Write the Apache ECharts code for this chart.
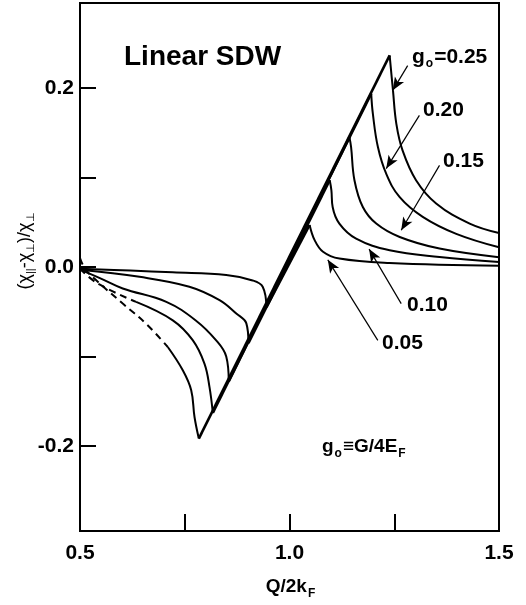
<!DOCTYPE html>
<html>
<head>
<meta charset="utf-8">
<script src="https://cdn.jsdelivr.net/npm/echarts@6/dist/echarts.min.js"></script>
<style>
  html, body { margin: 0; padding: 0; background: #fff; }
  #chart { width: 526px; height: 605px; }
</style>
</head>
<body>
<div id="chart"></div>
<script>
// curve values: [Q/2kF, (chi_par - chi_perp)/chi_perp]
const g05Left = [[0.5, -0.002], [0.62, -0.004], [0.721, -0.006], [0.849, -0.009], [0.912, -0.015], [0.936, -0.022], [0.945, -0.045]];
const g05Right = [[1.048, 0.047], [1.060, 0.030], [1.080, 0.017], [1.119, 0.0094], [1.239, 0.0045], [1.5, 0.0015]];

const g10Left = [[0.5, -0.003], [0.642, -0.011], [0.761, -0.022], [0.833, -0.037], [0.873, -0.052], [0.897, -0.063], [0.902, -0.085]];
const g10Right = [[1.096, 0.097], [1.100, 0.0857], [1.103, 0.067], [1.119, 0.0485], [1.159, 0.0317], [1.239, 0.0187], [1.358, 0.0112], [1.5, 0.0056]];

const g15Left = [[0.5, -0.003], [0.55, -0.013], [0.602, -0.024], [0.706, -0.039], [0.777, -0.060], [0.825, -0.082], [0.849, -0.10], [0.855, -0.128]];
const g15Right = [[1.143, 0.145], [1.147, 0.134], [1.155, 0.097], [1.175, 0.067], [1.207, 0.0485], [1.263, 0.0335], [1.358, 0.0206], [1.5, 0.011]];

const g20Dashed = [[0.5, -0.002], [0.5425, -0.0185], [0.634, -0.039]];
const g20Left = [[0.634, -0.039], [0.7215, -0.0596], [0.769, -0.0818], [0.797, -0.108], [0.809, -0.134], [0.817, -0.163]];
const g20Right = [[1.195, 0.1937], [1.199, 0.171], [1.211, 0.134], [1.231, 0.104], [1.263, 0.078], [1.318, 0.056], [1.398, 0.037], [1.5, 0.022]];

const g25Dashed = [[0.5, 0.010], [0.512, -0.002], [0.5387, -0.0149], [0.6021, -0.0409], [0.658, -0.0635], [0.7095, -0.0894]];
const g25Left = [[0.7095, -0.0894], [0.7453, -0.1154], [0.7654, -0.1377], [0.7733, -0.1676], [0.7836, -0.1917]];
const g25Right = [[1.239, 0.2365], [1.247, 0.197], [1.255, 0.160], [1.270, 0.130], [1.302, 0.097], [1.350, 0.071], [1.430, 0.0485], [1.5, 0.038]];

const gLabels = ['0.05', '0.10', '0.15', '0.20', '0.25'];
const xTickLabels = [0.5, 1.0, 1.5];
const yTickLabels = [-0.2, 0.0, 0.2];

// arrows from label to curve, in data units
const arrowFrom = [[1.2107, -0.082], [1.2666, -0.0409], [1.358, 0.1136], [1.310, 0.1694], [1.282, 0.225]];
const arrowTo = [[1.0914, 0.008], [1.190, 0.020], [1.2666, 0.041], [1.2308, 0.110], [1.2465, 0.1974]];

const curves = [
  { dashed: null, left: g05Left, right: g05Right },
  { dashed: null, left: g10Left, right: g10Right },
  { dashed: null, left: g15Left, right: g15Right },
  { dashed: g20Dashed, left: g20Left, right: g20Right },
  { dashed: g25Dashed, left: g25Left, right: g25Right }
];

const font = 'Liberation Sans, Arial, Helvetica, sans-serif';
const near = (v, list) => list.some(t => Math.abs(v - t) < 1e-6);

const series = [];
curves.forEach(c => {
  const base = { type: 'line', showSymbol: false, silent: true, z: 3, lineStyle: { color: '#000', width: 2 } };
  if (c.dashed) {
    series.push({ ...base, data: c.dashed, smooth: 0.4, lineStyle: { color: '#000', width: 2, type: [7, 5] } });
  }
  series.push({ ...base, data: c.left, smooth: 0.4 });
  // steep rising branch from the minimum straight up to the peak
  series.push({ ...base, data: [c.left[c.left.length - 1], c.right[0]], lineStyle: { color: '#000', width: 2.6 } });
  series.push({ ...base, data: c.right, smooth: 0.4 });
});
series.push({
  type: 'line',
  data: [],
  markLine: {
    silent: true,
    animation: false,
    symbol: ['none', 'arrow'],
    symbolSize: [8, 13],
    label: { show: false },
    lineStyle: { color: '#000', width: 1.2, type: 'solid' },
    data: arrowFrom.map((p, i) => [{ coord: p }, { coord: arrowTo[i] }])
  }
});

const bold = { fontFamily: font, fontWeight: 'bold', fontSize: 21, fill: '#000' };
const sub = { fontFamily: font, fontWeight: 'bold', fontSize: 12, padding: [14, 1, 0, 1] };

const texts = [
  { x: 124, y: 57, text: 'Linear SDW', size: 28 },
  { x: 412, y: 57, text: '{b|g}{s|o}{b|=' + gLabels[4] + '}' },
  { x: 423, y: 110, text: gLabels[3] },
  { x: 443, y: 161, text: gLabels[2] },
  { x: 407, y: 305, text: gLabels[1] },
  { x: 382, y: 343, text: gLabels[0] },
  { x: 322, y: 447, text: '{b|g}{s|o}{b|\u2261G/4E}{s|F}', size: 19 }
];

const graphic = texts.map(t => ({
  type: 'text',
  x: t.x,
  y: t.y,
  silent: true,
  style: {
    text: t.text,
    fill: '#000',
    font: 'bold ' + (t.size || 21) + 'px ' + font,
    textVerticalAlign: 'middle',
    rich: {
      b: { ...bold, fontSize: t.size || 21 },
      s: sub
    }
  }
}));
graphic.push({
  type: 'text', x: 291, y: 587, silent: true,
  style: {
    text: '{b|Q/2k}{s|F}', textAlign: 'center', textVerticalAlign: 'middle',
    rich: { b: { ...bold, fontSize: 19 }, s: sub }
  }
});
graphic.push({
  type: 'text', x: 25, y: 251, rotation: Math.PI / 2, silent: true,
  style: {
    text: '{b|(\u03c7}{s|||}{b|-\u03c7}{s|\u22a5}{b|)/\u03c7}{s|\u22a5}', textAlign: 'center', textVerticalAlign: 'middle',
    rich: {
      b: { fontFamily: font, fontSize: 18, fill: '#000' },
      s: { fontFamily: font, fontSize: 11, padding: [12, 0, 0, 0] }
    }
  }
});

const chart = echarts.init(document.getElementById('chart'));
chart.setOption({
  animation: false,
  backgroundColor: '#fff',
  grid: { left: 80, right: 27, top: 3, bottom: 74, show: true, borderColor: '#000', borderWidth: 2 },
  xAxis: {
    type: 'value', min: 0.5, max: 1.5, interval: 0.25,
    axisLine: { show: true, onZero: false, lineStyle: { color: '#000', width: 2 } },
    axisTick: { show: true, inside: true, length: 17, lineStyle: { color: '#000', width: 2 } },
    splitLine: { show: false },
    axisLabel: {
      color: '#000', fontFamily: font, fontWeight: 'bold', fontSize: 21, margin: 12,
      formatter: v => near(v, xTickLabels) ? v.toFixed(1) : ''
    }
  },
  yAxis: {
    type: 'value', min: -0.295, max: 0.295,
    axisLine: { show: true, onZero: false, lineStyle: { color: '#000', width: 2 } },
    axisTick: { show: true, inside: true, length: 16, lineStyle: { color: '#000', width: 2 } },
    splitLine: { show: false },
    axisLabel: {
      color: '#000', fontFamily: font, fontWeight: 'bold', fontSize: 21, margin: 6,
      showMinLabel: false, showMaxLabel: false,
      formatter: v => near(v, yTickLabels) ? v.toFixed(1) : ''
    }
  },
  series: series,
  graphic: graphic
});
</script>
</body>
</html>
